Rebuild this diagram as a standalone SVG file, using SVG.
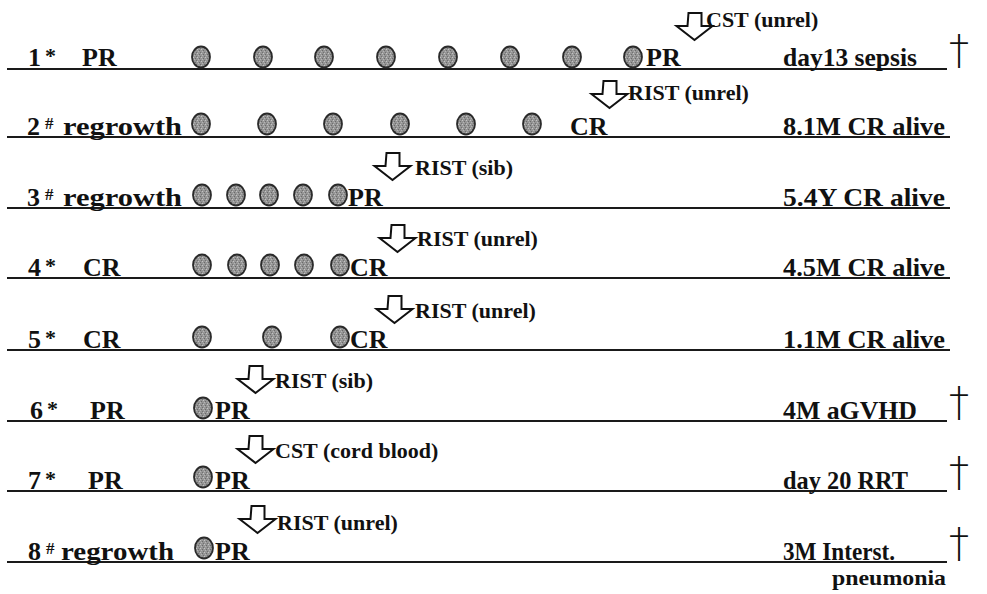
<svg xmlns="http://www.w3.org/2000/svg" width="987" height="594" viewBox="0 0 987 594">
  <style>
    .t { font-family: "Liberation Serif", "DejaVu Serif", "Noto Serif", Times, serif; font-weight: bold; fill: #111; }
    .main { font-size: 26px; }
    .note { font-size: 22px; }
    .star { font-size: 22px; }
    .hash { font-size: 17px; }
    .dag { font-family: "DejaVu Sans", "Noto Sans", sans-serif; font-weight: 200; font-size: 40px; fill: #111; }
    .rule { stroke: #1a1a1a; stroke-width: 2; fill: none; }
    .dot { fill: url(#grain); stroke: #2a2a2a; stroke-width: 1.8; }
    .arrow { fill: #fff; stroke: #111; stroke-width: 2; stroke-linejoin: miter; }
  </style>
  <defs>
    <!-- speckled grey fill for the treatment-course dots -->
    <pattern id="grain" width="4" height="4" patternUnits="userSpaceOnUse">
      <rect width="4" height="4" fill="#959595"/>
      <rect x="0" y="0" width="1" height="1" fill="#c4c4c4"/>
      <rect x="2" y="1" width="1" height="1" fill="#6a6a6a"/>
      <rect x="1" y="2" width="1" height="1" fill="#b5b5b5"/>
      <rect x="3" y="3" width="1" height="1" fill="#707070"/>
    </pattern>
    <ellipse id="dot" class="dot" cx="0" cy="0" rx="9" ry="10.5"/>
    <!-- block down-arrow, origin at top centre of the stem -->
    <path id="down" class="arrow" d="M-6.5,0 h13 v13 h11 l-18,14 l-18,-14 h11 z"/>
  </defs>

  <rect width="987" height="594" fill="#fff"/>

  <!-- baselines of each patient row -->
  <g id="rules">
    <line class="rule" x1="7" y1="69" x2="947" y2="69"/>
    <line class="rule" x1="7" y1="137" x2="950" y2="137"/>
    <line class="rule" x1="7" y1="208" x2="950" y2="208"/>
    <line class="rule" x1="7" y1="278" x2="950" y2="278"/>
    <line class="rule" x1="7" y1="350" x2="950" y2="350"/>
    <line class="rule" x1="7" y1="421" x2="947" y2="421"/>
    <line class="rule" x1="7" y1="491" x2="947" y2="491"/>
    <line class="rule" x1="7" y1="562" x2="947" y2="562"/>
  </g>

  <!-- transplant arrows -->
  <g id="connectors">
    <use href="#down" x="695" y="13"/>
    <use href="#down" x="610" y="81"/>
    <use href="#down" x="393" y="153"/>
    <use href="#down" x="398" y="225"/>
    <use href="#down" x="395" y="296"/>
    <use href="#down" x="256" y="366"/>
    <use href="#down" x="256" y="436"/>
    <use href="#down" x="258" y="506"/>
  </g>

  <g id="row1">
    <text class="t main" x="28" y="66">1<tspan class="star" x="45" dy="-3">*</tspan></text>
    <text class="t main" x="82" y="66">PR</text>
    <use href="#dot" x="201" y="57"/>
    <use href="#dot" x="263" y="57"/>
    <use href="#dot" x="324" y="57"/>
    <use href="#dot" x="386" y="57"/>
    <use href="#dot" x="448" y="57"/>
    <use href="#dot" x="510" y="57"/>
    <use href="#dot" x="572" y="57"/>
    <use href="#dot" x="633" y="57"/>
    <text class="t main" x="646" y="66">PR</text>
    <text class="t note" x="706" y="27">CST (unrel)</text>
    <text class="t main" x="783" y="66" textLength="134" lengthAdjust="spacingAndGlyphs">day13 sepsis</text>
    <text class="dag" x="949" y="64">†</text>
  </g>

  <g id="row2">
    <text class="t main" x="27" y="135">2<tspan class="hash" x="45" dy="-6">#</tspan></text>
    <text class="t main" x="63" y="135" textLength="119" lengthAdjust="spacingAndGlyphs">regrowth</text>
    <use href="#dot" x="201" y="124"/>
    <use href="#dot" x="267" y="124"/>
    <use href="#dot" x="333" y="124"/>
    <use href="#dot" x="400" y="124"/>
    <use href="#dot" x="466" y="124"/>
    <use href="#dot" x="532" y="124"/>
    <text class="t main" x="570" y="135">CR</text>
    <text class="t note" x="628" y="100">RIST (unrel)</text>
    <text class="t main" x="783" y="135" textLength="162" lengthAdjust="spacingAndGlyphs">8.1M  CR alive</text>
  </g>

  <g id="row3">
    <text class="t main" x="27" y="206">3<tspan class="hash" x="45" dy="-6">#</tspan></text>
    <text class="t main" x="63" y="206" textLength="119" lengthAdjust="spacingAndGlyphs">regrowth</text>
    <use href="#dot" x="202" y="195"/>
    <use href="#dot" x="236" y="195"/>
    <use href="#dot" x="269" y="195"/>
    <use href="#dot" x="303" y="195"/>
    <use href="#dot" x="338" y="195"/>
    <text class="t main" x="348" y="206">PR</text>
    <text class="t note" x="415" y="175">RIST (sib)</text>
    <text class="t main" x="783" y="206" textLength="162" lengthAdjust="spacingAndGlyphs">5.4Y CR  alive</text>
  </g>

  <g id="row4">
    <text class="t main" x="28" y="276">4<tspan class="star" x="45" dy="-3">*</tspan></text>
    <text class="t main" x="83" y="276">CR</text>
    <use href="#dot" x="202" y="265"/>
    <use href="#dot" x="237" y="265"/>
    <use href="#dot" x="270" y="265"/>
    <use href="#dot" x="304" y="265"/>
    <use href="#dot" x="340" y="265"/>
    <text class="t main" x="350" y="276">CR</text>
    <text class="t note" x="417" y="246">RIST (unrel)</text>
    <text class="t main" x="783" y="276" textLength="162" lengthAdjust="spacingAndGlyphs">4.5M CR  alive</text>
  </g>

  <g id="row5">
    <text class="t main" x="28" y="348">5<tspan class="star" x="45" dy="-3">*</tspan></text>
    <text class="t main" x="83" y="348">CR</text>
    <use href="#dot" x="202" y="337"/>
    <use href="#dot" x="272" y="337"/>
    <use href="#dot" x="340" y="337"/>
    <text class="t main" x="350" y="348">CR</text>
    <text class="t note" x="415" y="318">RIST (unrel)</text>
    <text class="t main" x="783" y="348" textLength="162" lengthAdjust="spacingAndGlyphs">1.1M CR  alive</text>
  </g>

  <g id="row6">
    <text class="t main" x="30" y="419">6<tspan class="star" x="47" dy="-3">*</tspan></text>
    <text class="t main" x="90" y="419">PR</text>
    <use href="#dot" x="203" y="408"/>
    <text class="t main" x="215" y="419">PR</text>
    <text class="t note" x="275" y="388">RIST (sib)</text>
    <text class="t main" x="783" y="419" textLength="134" lengthAdjust="spacingAndGlyphs">4M aGVHD</text>
    <text class="dag" x="949" y="416">†</text>
  </g>

  <g id="row7">
    <text class="t main" x="28" y="489">7<tspan class="star" x="45" dy="-3">*</tspan></text>
    <text class="t main" x="88" y="489">PR</text>
    <use href="#dot" x="203" y="477"/>
    <text class="t main" x="215" y="489">PR</text>
    <text class="t note" x="275" y="458">CST (cord blood)</text>
    <text class="t main" x="783" y="489" textLength="125" lengthAdjust="spacingAndGlyphs">day 20 RRT</text>
    <text class="dag" x="949" y="486">†</text>
  </g>

  <g id="row8">
    <text class="t main" x="28" y="560">8<tspan class="hash" x="46" dy="-6">#</tspan></text>
    <text class="t main" x="61" y="560" textLength="113" lengthAdjust="spacingAndGlyphs">regrowth</text>
    <use href="#dot" x="204" y="548"/>
    <text class="t main" x="215" y="560">PR</text>
    <text class="t note" x="277" y="530">RIST (unrel)</text>
    <text class="t main" x="783" y="560" textLength="112" lengthAdjust="spacingAndGlyphs">3M Interst.</text>
    <text class="dag" x="949" y="557">†</text>
    <text class="t note" x="832" y="585" textLength="114" lengthAdjust="spacingAndGlyphs">pneumonia</text>
  </g>
</svg>
